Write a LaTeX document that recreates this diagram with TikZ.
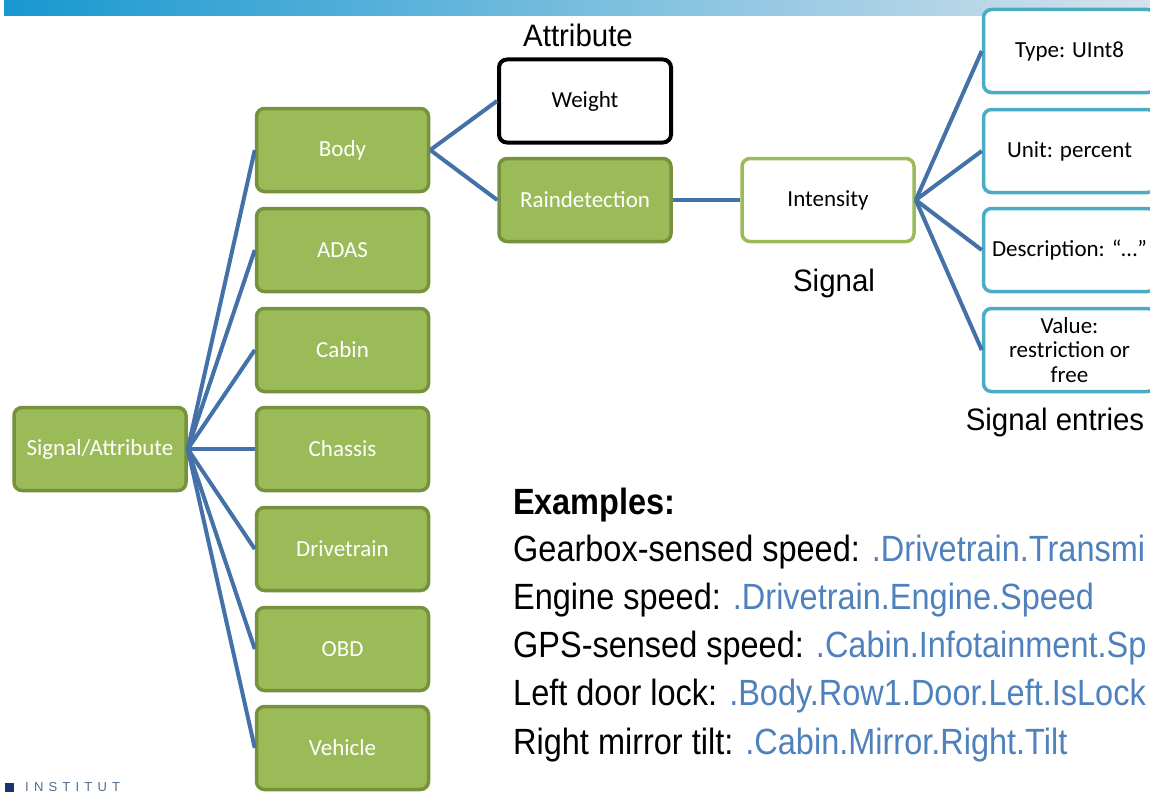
\documentclass[tikz,border=0pt]{standalone}
\usepackage{fontspec}
\setmainfont{Carlito}
\newfontfamily\labfont[FakeStretch=0.95]{Liberation Sans}
\newfontfamily\exfont[FakeStretch=0.89]{Liberation Sans}
\newfontfamily\logofont[LetterSpace=40]{Liberation Sans}
\definecolor{gfill}{RGB}{155,187,89}
\definecolor{gdraw}{RGB}{118,146,60}
\definecolor{conn}{RGB}{68,114,168}
\definecolor{cyanb}{RGB}{75,172,198}
\definecolor{pathblue}{RGB}{79,129,189}
\definecolor{barleft}{RGB}{24,152,208}
\definecolor{barright}{RGB}{214,226,236}
\definecolor{logoblue}{RGB}{30,50,110}
\definecolor{logotext}{RGB}{80,110,140}
\tikzset{
  boxbase/.style={rectangle, rounded corners=8pt, minimum width=172pt, minimum height=83pt,
    line width=3.5pt, align=center, inner sep=0pt, font=\fontsize{23}{24.5}\selectfont},
  greenbox/.style={boxbase, fill=gfill, draw=gdraw, text=white},
  attrbox/.style={boxbase, fill=white, draw=black, line width=4pt, text=black},
  signalbox/.style={boxbase, fill=white, draw=gfill, text=black},
  entrybox/.style={boxbase, fill=white, draw=cyanb, text=black},
  link/.style={draw=conn, line width=4pt},
  biglabel/.style={font=\labfont\fontsize{31}{36}\selectfont, inner sep=0pt, anchor=base},
  exline/.style={font=\exfont\fontsize{36.5}{42}\selectfont, inner sep=0pt, anchor=base west}
}
\begin{document}
\begin{tikzpicture}[x=1pt,y=-1pt]
\useasboundingbox (0,0) rectangle (1150,792);
\clip (0,0) rectangle (1150,792);
\fill[white] (0,0) rectangle (1150,792);
% top bar
\shade[left color=barleft, right color=barright] (4,1) rectangle (1150,16);

% nodes
\node[greenbox] (sa) at (100,449) {Signal/Attribute};
\node[greenbox] (body) at (342.5,150) {Body};
\node[greenbox] (adas) at (342.5,250) {ADAS};
\node[greenbox] (cabin) at (342.5,350) {Cabin};
\node[greenbox] (chassis) at (342.5,449) {Chassis};
\node[greenbox] (drive) at (342.5,549) {Drivetrain};
\node[greenbox] (obd) at (342.5,649) {OBD};
\node[greenbox] (vehicle) at (342.5,748) {Vehicle};

\node[attrbox] (weight) at (585,101) {Weight};
\node[greenbox] (rain) at (585,200) {Raindetection};
\node[signalbox] (intensity) at (828,200) {Intensity};

\node[entrybox] (type) at (1069.5,51) {Type: UInt8};
\node[entrybox] (unit) at (1069.5,151) {Unit: percent};
\node[entrybox] (desc) at (1069.5,250) {Description: “…”};
\node[entrybox] (value) at (1069.5,350) {Value:\\restriction or\\free};

% connectors
\foreach \t in {body,adas,cabin,chassis,drive,obd,vehicle}
  \draw[link] (sa.east) -- (\t.west);
\draw[link] (body.east) -- (weight.west);
\draw[link] (body.east) -- (rain.west);
\draw[link] (rain.east) -- (intensity.west);
\foreach \t in {type,unit,desc,value}
  \draw[link] (intensity.east) -- (\t.west);

% labels
\node[biglabel] (lattr) at (578,46) {Attribute};
\node[biglabel] (lsig) at (834,291) {Signal};
\node[biglabel] (lent) at (1055,430) {Signal entries};

% examples
\node[exline] (ex0) at (513,514) {\bfseries Examples:};
\node[exline] (ex1) at (513,561) {Gearbox-sensed speed: \textcolor{pathblue}{.Drivetrain.Transmi}};
\node[exline] (ex2) at (513,609) {Engine speed: \textcolor{pathblue}{.Drivetrain.Engine.Speed}};
\node[exline] (ex3) at (513,657) {GPS-sensed speed: \textcolor{pathblue}{.Cabin.Infotainment.Sp}};
\node[exline] (ex4) at (513,705) {Left door lock: \textcolor{pathblue}{.Body.Row1.Door.Left.IsLock}};
\node[exline] (ex5) at (513,754) {Right mirror tilt: \textcolor{pathblue}{.Cabin.Mirror.Right.Tilt}};

% logo
\fill[logoblue] (5,783) rectangle (14,792);
\node[anchor=north west, inner sep=0pt, text=logotext, font=\logofont\fontsize{13}{14}\selectfont] (logo) at (25,782.3) {INSTITUT};
\end{tikzpicture}
\end{document}
